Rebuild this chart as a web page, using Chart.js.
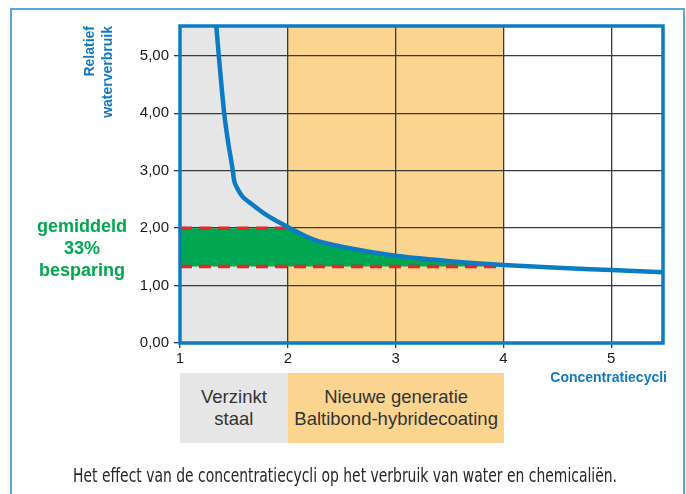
<!DOCTYPE html>
<html lang="nl">
<head>
<meta charset="utf-8">
<title>Concentratiecycli</title>
<script src="https://cdn.jsdelivr.net/npm/chart.js"></script>
<style>
  html, body { margin: 0; padding: 0; background: #fff; }
  #wrap { position: relative; width: 686px; height: 494px; overflow: hidden; font-family: Arial, "Liberation Sans", sans-serif; }
  #frame { position: absolute; left: 10px; top: 8px; width: 671px; height: 500px; border: 2px solid #58a6da; border-bottom: none; }
  #chartType { position: absolute; left: 0; top: 0; }
  .box { position: absolute; display: flex; align-items: center; justify-content: center; text-align: center; font-size: 18.5px; line-height: 22px; color: #333; }
  #saving { position: absolute; left: 30px; width: 104px; top: 215px; text-align: center; font-weight: bold; font-size: 18px; line-height: 22px; color: #00a650; }
  #xTitle { position: absolute; right: 19px; top: 369px; font-weight: bold; font-size: 14px; color: #1279c1; }
  #caption { position: absolute; left: 73px; top: 466px; font-family: "Liberation Sans Narrow", "DejaVu Sans Condensed", "Liberation Sans", sans-serif; font-size: 19px; line-height: 19px; color: #262626; white-space: nowrap; transform-origin: 0 0; }
</style>
</head>
<body>
<div id="wrap">
  <div id="frame"></div>
  <canvas id="chartType" width="686" height="494"></canvas>
  <div id="saving">gemiddeld<br>33%<br>besparing</div>
  <div id="xTitle">Concentratiecycli</div>
  <div id="caption">Het effect van de concentratiecycli op het verbruik van water en chemicaliën.</div>
</div>
<script>
// DATOS
const xTicks = [1, 2, 3, 4, 5];
const xTickLabels = ["1", "2", "3", "4", "5"];
const yTicks = [0, 1, 2, 3, 4, 5];
const yTickLabels = ["0,00", "1,00", "2,00", "3,00", "4,00", "5,00"];

// curva: relatief waterverbruik
const curveX = [1.333, 1.36, 1.41, 1.446, 1.49, 1.50, 1.53, 1.58, 1.65, 1.80, 2.00, 2.24, 2.55, 3.00, 3.48, 4.00, 4.50, 5.00, 5.48];
const curveY = [5.60, 5.00, 4.00, 3.50, 3.00, 2.85, 2.70, 2.55, 2.44, 2.23, 2.02, 1.80, 1.66, 1.52, 1.43, 1.36, 1.31, 1.27, 1.23];

// groene zone (besparing)
const savingX = [1.00, 2.00, 2.24, 2.55, 3.00, 3.48, 4.00];
const savingY = [2.00, 2.00, 1.80, 1.66, 1.52, 1.43, 1.35];
const savingBase = 1.333;

// rode stippellijnen
const dashTopX = [1, 2];
const dashTopY = [2.0, 2.0];
const dashLowX = [1, 4];
const dashLowY = [1.333, 1.333];

// zones onder de grafiek
const zoneLabels = ["Verzinkt<br>staal", "Nieuwe generatie<br>Baltibond-hybridecoating"];
const zoneStart = [1, 2];
const zoneEnd = [2, 4];

// estilos
const zoneColors = ["#e6e6e6", "#fbd58f"];
const blue = "#0b7bc4";
const red = "#e8262a";
const green = "#00a650";

const toPoints = (xs, ys) => xs.map((x, i) => ({ x: x, y: ys[i] }));

// fondo gris / naranja y borde azul
const bandsPlugin = {
  id: "bands",
  beforeDraw(chart) {
    const ctx = chart.ctx;
    const area = chart.chartArea;
    const x = chart.scales.x;
    ctx.save();
    for (let i = 0; i < zoneStart.length; i++) {
      const x1 = x.getPixelForValue(zoneStart[i]);
      const x2 = x.getPixelForValue(zoneEnd[i]);
      ctx.fillStyle = zoneColors[i];
      ctx.fillRect(x1, area.top, x2 - x1, area.bottom - area.top);
    }
    ctx.restore();
  },
  afterDatasetsDraw(chart) {
    const ctx = chart.ctx;
    const area = chart.chartArea;
    ctx.save();
    ctx.strokeStyle = blue;
    ctx.lineWidth = 3.5;
    ctx.strokeRect(area.left, area.top, area.right - area.left, area.bottom - area.top);
    ctx.restore();
  }
};

const data = {
  datasets: [
    {
      data: toPoints(curveX, curveY),
      borderColor: blue,
      borderWidth: 4.5,
      pointRadius: 0,
      cubicInterpolationMode: "monotone",
      clip: 0,
      fill: false
    },
    {
      data: toPoints(dashTopX, dashTopY),
      borderColor: red,
      borderWidth: 3.5,
      borderDash: [12, 7],
      pointRadius: 0,
      fill: false
    },
    {
      data: toPoints(dashLowX, dashLowY),
      borderColor: red,
      borderWidth: 3.5,
      borderDash: [12, 7],
      pointRadius: 0,
      fill: false
    },
    {
      data: toPoints(savingX, savingY),
      borderWidth: 0,
      borderColor: "rgba(0,0,0,0)",
      backgroundColor: green,
      pointRadius: 0,
      cubicInterpolationMode: "monotone",
      fill: { value: savingBase }
    }
  ]
};

const config = {
  type: "line",
  data: data,
  plugins: [bandsPlugin],
  options: {
    responsive: false,
    animation: false,
    devicePixelRatio: 1,
    layout: { padding: { left: 0, top: 26, right: 23, bottom: 0 } },
    plugins: { legend: { display: false }, tooltip: { enabled: false } },
    scales: {
      x: {
        type: "linear",
        min: 1,
        max: 5.48,
        afterFit: (scale) => { scale.height = 494 - 343; },
        afterBuildTicks: (scale) => { scale.ticks = xTicks.map(v => ({ value: v })); },
        ticks: {
          callback: (v, i) => xTickLabels[i],
          color: "#1a1a1a",
          font: { family: "Arial, 'Liberation Sans'", size: 15 },
          padding: 2,
          maxRotation: 0
        },
        grid: { color: "#3a3a3a", lineWidth: 1.3, tickLength: 5 },
        border: { display: false }
      },
      y: {
        min: 0,
        max: 5.52,
        afterFit: (scale) => { scale.width = 180; },
        afterBuildTicks: (scale) => { scale.ticks = yTicks.map(v => ({ value: v })); },
        ticks: {
          callback: (v, i) => yTickLabels[i],
          color: "#1a1a1a",
          font: { family: "Arial, 'Liberation Sans'", size: 15 },
          padding: 5
        },
        grid: { color: "#3a3a3a", lineWidth: 1.3, tickLength: 6 },
        border: { display: false },
        title: {
          display: true,
          text: ["Relatief", "waterverbruik"],
          align: "end",
          color: "#1279c1",
          font: { family: "Arial, 'Liberation Sans'", size: 14, weight: "bold", lineHeight: 1.3 },
          padding: { top: 81, bottom: 0 }
        }
      }
    }
  }
};

const myChart = new Chart(document.getElementById("chartType"), config);

// cajas de zona debajo del eje, alineadas con la escala x
const wrap = document.getElementById("wrap");
const xScale = myChart.scales.x;
for (let i = 0; i < zoneLabels.length; i++) {
  const box = document.createElement("div");
  box.className = "box";
  const left = xScale.getPixelForValue(zoneStart[i]);
  const right = xScale.getPixelForValue(zoneEnd[i]) + (i === zoneLabels.length - 1 ? 1 : 0);
  box.style.left = left + "px";
  box.style.width = (right - left) + "px";
  box.style.top = "373px";
  box.style.height = "70px";
  box.style.background = zoneColors[i];
  box.innerHTML = zoneLabels[i];
  wrap.appendChild(box);
}

// pie de figura estrecho
const caption = document.getElementById("caption");
const w = caption.getBoundingClientRect().width;
caption.style.transform = "scaleX(" + (544 / w) + ")";
</script>
</body>
</html>
